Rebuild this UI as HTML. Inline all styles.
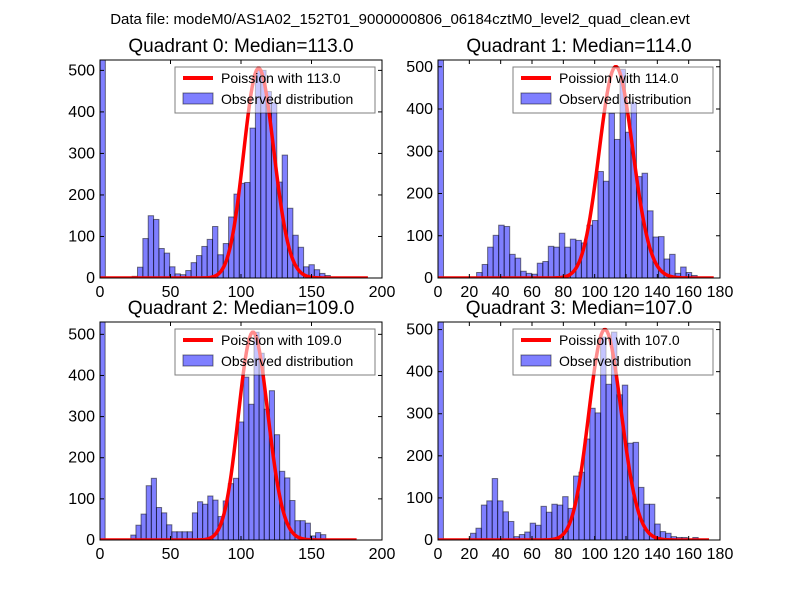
<!DOCTYPE html>
<html><head><meta charset="utf-8"><style>
body{margin:0;background:#fff;}
svg text{font-family:"Liberation Sans",sans-serif;}
</style></head><body>
<svg id="fig" width="800" height="600" xmlns="http://www.w3.org/2000/svg">
<rect width="800" height="600" fill="#fff"/>
<text x="400" y="24" font-size="15" text-anchor="middle">Data file: modeM0/AS1A02_152T01_9000000806_06184cztM0_level2_quad_clean.evt</text>
</svg>
<script>
const titles = ["Quadrant 0: Median=113.0","Quadrant 1: Median=114.0","Quadrant 2: Median=109.0","Quadrant 3: Median=107.0"];
const medians = [113, 114, 109, 107];
const binWidths = [3.8, 3.52, 3.64, 3.46];
const yMaxes = [525, 516, 530, 518];
const xMaxes = [200, 180, 200, 180];
const curvePeaks = [505, 500, 505, 500];
const xTicksA = [0,50,100,150,200];
const xTicksB = [0,20,40,60,80,100,120,140,160,180];
const yTicks = [0,100,200,300,400,500];
const counts0 = [525,0,0,0,0,0,4,26,95,150,141,71,60,27,10,8,18,37,54,76,93,124,56,83,147,202,228,230,361,500,500,449,422,231,296,168,103,74,27,32,20,11,6,0,0,0,0,0,0,0];
const counts1 = [516,0,0,0,0,0,0,13,32,73,101,125,122,56,47,16,11,9,35,39,75,73,106,73,92,89,83,125,136,252,229,390,328,494,345,416,240,248,159,97,98,45,56,11,26,13,6,2,0,0];
const counts2 = [530,0,0,0,0,0,12,36,63,132,150,79,66,37,20,20,20,20,66,93,87,107,97,57,95,137,150,287,396,330,505,454,318,363,256,167,151,96,47,47,41,10,18,13,0,0,0,0,0,0];
const counts3 = [518,0,0,0,0,0,16,28,83,93,146,93,67,44,8,13,19,40,35,80,66,85,83,103,75,152,161,240,313,302,482,370,494,345,368,230,232,125,85,85,38,20,16,8,6,6,2,6,0,0];

const NS="http://www.w3.org/2000/svg";
const svg=document.getElementById('fig');
function mk(tag,attrs,parent){const e=document.createElementNS(NS,tag);for(const k in attrs)e.setAttribute(k,attrs[k]);(parent||svg).appendChild(e);return e;}
const boxes=[{l:100,r:382,t:60,b:278},{l:438,r:720,t:60,b:278},{l:100,r:382,t:322,b:540},{l:438,r:720,t:322,b:540}];
const allCounts=[counts0,counts1,counts2,counts3];
function lgamma(z){
  if(z<7){let p=1;while(z<7){p*=z;z+=1;}return lgamma(z)-Math.log(p);}
  return (z-0.5)*Math.log(z)-z+0.5*Math.log(2*Math.PI)+1/(12*z)-1/(360*z*z*z);
}
for(let q=0;q<4;q++){
  const B=boxes[q],counts=allCounts[q],bw=binWidths[q];
  const xs=v=>B.l+(v/xMaxes[q])*(B.r-B.l);
  const ys=v=>B.b-(v/yMaxes[q])*(B.b-B.t);
  const g=mk('g',{});
  
  
  const title=mk('text',{x:(B.l+B.r)/2,y:B.t-8,'font-size':19,'text-anchor':'middle'},g);
  title.textContent=titles[q];
  
  
  const clip=mk('clipPath',{id:'c'+q},g);mk('rect',{x:B.l,y:B.t,width:B.r-B.l,height:B.b-B.t},clip);
  const plot=mk('g',{'clip-path':'url(#c'+q+')'},g);
  counts.forEach((c,i)=>{
    if(c<=0)return;
    const x0=xs(i*bw),x1=xs((i+1)*bw);
    const r=mk('rect',{x:x0,y:ys(c),width:x1-x0,height:ys(0)-ys(c),fill:'rgba(0,0,255,0.5)',stroke:'rgba(0,0,0,0.5)','stroke-width':1},plot);
    
    
  });
  const mu=medians[q];const xEnd=counts.length*bw;
  const peakLog=mu*Math.log(mu)-mu-lgamma(Math.floor(mu)+1);
  let d='';
  for(let k=0;k<=Math.floor(xEnd);k++){
    const lp=(k===0?-mu:k*Math.log(mu)-mu-lgamma(k+1));
    const v=curvePeaks[q]*Math.exp(lp-peakLog);
    d+=(k===0?'M':'L')+xs(k).toFixed(2)+','+ys(v).toFixed(2);
  }
  const pl=mk('path',{d:d,fill:'none',stroke:'#ff0000','stroke-width':3.5,'stroke-linejoin':'round'},plot);
  
  
  const fr=mk('rect',{x:B.l,y:B.t,width:B.r-B.l,height:B.b-B.t,fill:'none',stroke:'#000','stroke-width':1},g);
  
  
  const xt=(q%2===0)?xTicksA:xTicksB;
  xt.forEach(t=>{
    const x=xs(t);
    mk('line',{x1:x,x2:x,y1:B.b,y2:B.b-4,stroke:'#000'},g);
    mk('line',{x1:x,x2:x,y1:B.t,y2:B.t+4,stroke:'#000'},g);
    const tx=mk('text',{x:x,y:B.b+19,'font-size':16,'text-anchor':'middle'},g);
    tx.textContent=t;
    
    
  });
  yTicks.forEach(t=>{
    const y=ys(t);
    mk('line',{x1:B.l,x2:B.l+4,y1:y,y2:y,stroke:'#000'},g);
    mk('line',{x1:B.r,x2:B.r-4,y1:y,y2:y,stroke:'#000'},g);
    const ty=mk('text',{x:B.l-5,y:y+5,'font-size':16,'text-anchor':'end'},g);
    ty.textContent=t;
    
    
  });
  const lg=mk('g',{},g);
  
  
  const lx=B.l+75,ly=B.t+7;
  mk('rect',{x:lx,y:ly,width:200,height:46,fill:'rgba(255,255,255,0.55)',stroke:'rgba(0,0,0,0.5)','stroke-width':1},lg);
  mk('line',{x1:lx+8,x2:lx+38,y1:ly+11,y2:ly+11,stroke:'#ff0000','stroke-width':4},lg);
  const t1=mk('text',{x:lx+46,y:ly+16,'font-size':14},lg);t1.textContent='Poission with '+medians[q].toFixed(1);
  
  
  mk('rect',{x:lx+8,y:ly+26,width:30,height:11,fill:'rgba(0,0,255,0.5)',stroke:'rgba(0,0,0,0.5)'},lg);
  const t2=mk('text',{x:lx+46,y:ly+37,'font-size':14},lg);t2.textContent='Observed distribution';
  
  
}
</script>
</body></html>
